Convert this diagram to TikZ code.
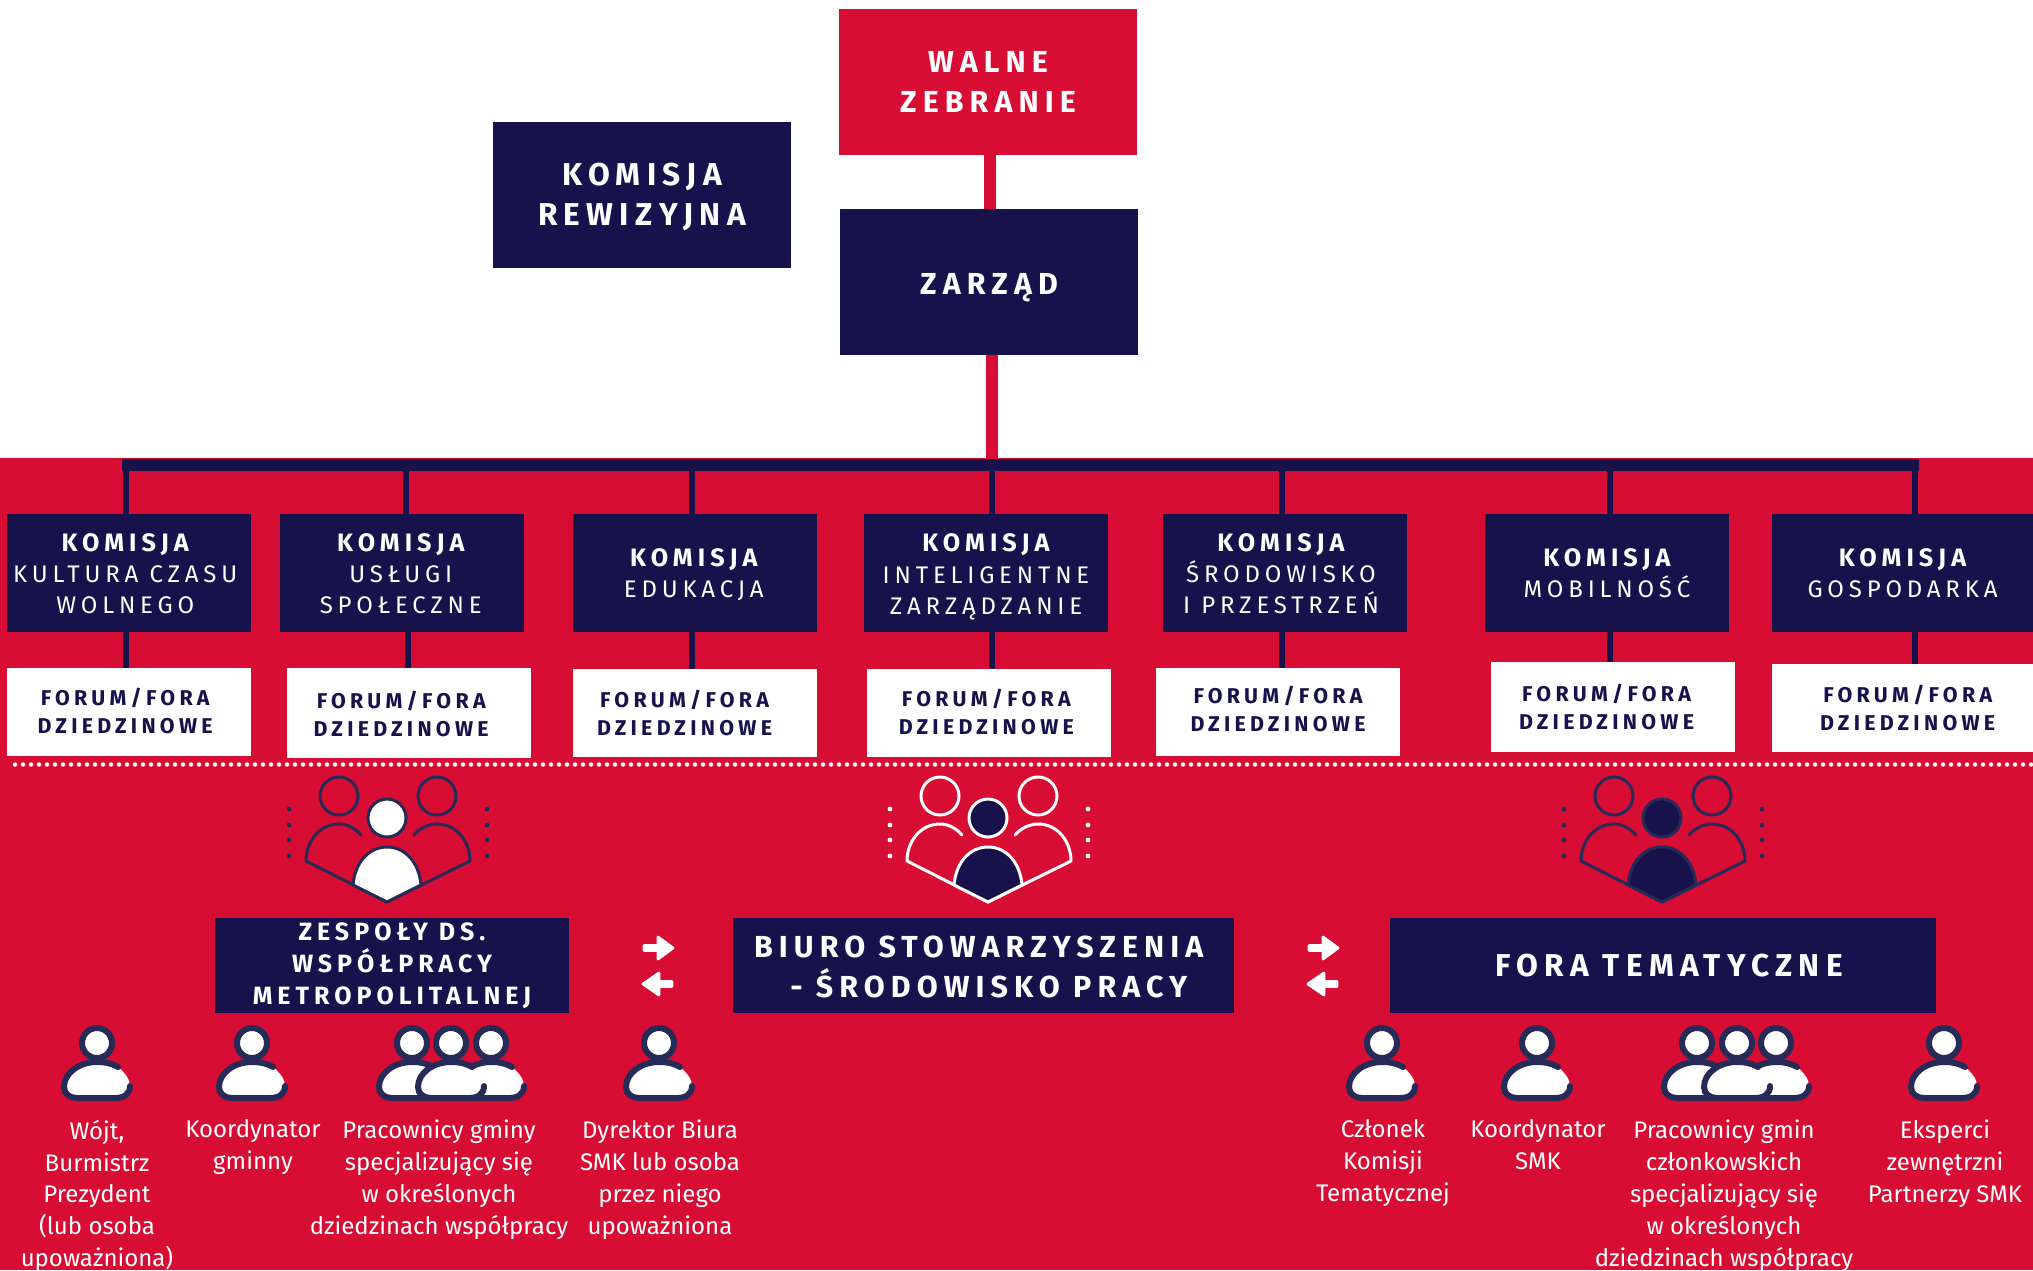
\documentclass[tikz,border=0pt]{standalone}
\usepackage{fontspec}
\setmainfont{Fira Sans}
\newfontfamily\trk[LetterSpace=20]{Fira Sans}
\newfontfamily\trkb[LetterSpace=20,BoldFont={Fira Sans Bold}]{Fira Sans}
\newcommand{\kb}{\trkb\bfseries\fontsize{12.6}{15.6}\selectfont}
\definecolor{smkred}{HTML}{D80D33}
\definecolor{smknavy}{HTML}{18124C}
\definecolor{smkline}{HTML}{252A57}
\tikzset{
 nbox/.style n args={2}{inner sep=0pt,outer sep=0pt,minimum width=#1*0.5pt,minimum height=#2*0.5pt,fill=smknavy},
 wbox/.style n args={2}{nbox={#1}{#2},fill=white},
 lab/.style={inner sep=0pt,outer sep=0pt,align=center,text=white},
 bigt/.style={lab,font=\trkb\bfseries\fontsize{15.2}{20}\selectfont},
 komt/.style={lab,font=\trk\fontsize{12}{15.6}\selectfont},
 fort/.style={lab,text=smknavy,font=\trkb\bfseries\fontsize{10.7}{14}\selectfont},
 botbig/.style={lab,font=\trkb\bfseries\fontsize{15.2}{20}\selectfont},
 forat/.style={lab,font=\trkb\bfseries\fontsize{15.8}{20}\selectfont},
 zest/.style={lab,font=\trkb\bfseries\fontsize{12.5}{16}\selectfont},
 body/.style={font=\fontsize{12}{15.95}\selectfont,text=white,align=center,inner sep=0pt,anchor=north},
 navyc/.style={draw=smknavy,line width=3.2pt},
 redc/.style={draw=smkred,line width=6.2pt},
 arw/.style={fill=white,draw=white,line width=1.4pt,line join=round},
}
\newcommand{\pers}[2]{% x, y of head
 \begin{scope}[shift={(#1,#2)}]
  \fill[white] (21,24) .. controls (14,20) and (8,19) .. (0,19) .. controls (-18,19) and (-33,30) .. (-33,44) .. controls (-33,51) and (-27,55) .. (-20,55) -- (18,55) .. controls (27,55) and (33,51) .. (33,43) .. controls (33,36) and (28,30) .. cycle;
  \draw[smkline,line width=3pt,line cap=round] (21,24) .. controls (14,20) and (8,19) .. (0,19) .. controls (-18,19) and (-33,30) .. (-33,44) .. controls (-33,51) and (-27,55) .. (-20,55) -- (18,55) .. controls (27,55) and (33,51) .. (33,43);
  \draw[smkline,fill=white,line width=3pt] (0,0) circle (15);
 \end{scope}}
\newcommand{\trio}[3]{% x centre, line colour, fill of centre
 \begin{scope}[shift={(#1,0)},line width=1.5pt,draw=#2]
  \draw (-48,796) circle (19);
  \draw (50,796) circle (19);
  \draw[fill=#3] (0,818) circle (19);
  \draw[line cap=round,line join=round] (-26,835) .. controls (-32,828) and (-40,824) .. (-48,824) .. controls (-68,824) and (-81,842) .. (-81,861) -- (0,902) -- (83,861) .. controls (83,842) and (70,824) .. (50,824) .. controls (42,824) and (33,828) .. (27,835);
  \draw[fill=#3,line join=round] (-34,885) .. controls (-32,862) and (-18,847) .. (0,847) .. controls (18,847) and (32,862) .. (34,885) -- (0,902) -- cycle;
  \foreach \dy in {809,825,840,856} {\fill[#2] (-98,\dy) circle (2.4); \fill[#2] (100,\dy) circle (2.4);}
 \end{scope}}
\begin{document}
\begin{tikzpicture}[x=0.5pt,y=-0.5pt]
\useasboundingbox (0,0) rectangle (2033,1270);
\fill[white] (0,0) rectangle (2033,458);
\fill[smkred] (0,458) rectangle (2033,1270);

% top
\node[nbox={298}{146},fill=smkred,label={[bigt]center:{WALNE\\ZEBRANIE}}] (walne) at (988,82) {};
\node[nbox={298}{146},label={[bigt,yshift=-0.8pt,font=\trkb\bfseries\fontsize{15.8}{20}\selectfont]center:{KOMISJA\\REWIZYJNA}}] (rew) at (642,195) {};
\node[nbox={298}{146},label={[bigt,yshift=-3pt]center:{ZARZĄD}}] (zarzad) at (989,282) {};
\coordinate (tra) at (990,180);
\coordinate (tr) at (992,465);
\coordinate (barL) at (122,465);
\coordinate (barR) at (1919,465);
\draw[redc] (tra |- walne.south) -- (tra |- zarzad.north);
\draw[redc] (tr |- zarzad.south) -- (tr |- barL);
\draw[navyc,line width=6pt] (barL) -- (barR);

% commissions
\node[nbox={244}{118},label={[komt,xshift=-1.9pt,yshift=-0.4pt]center:{\kb KOMISJA\\KULTURA CZASU\\WOLNEGO}}] (k1) at (129,573) {};
\node[nbox={244}{118},label={[komt,xshift=-0.6pt,yshift=-0.4pt]center:{\kb KOMISJA\\USŁUGI\\SPOŁECZNE}}] (k2) at (402,573) {};
\node[nbox={244}{118},label={[komt,xshift=-0.6pt,yshift=-1pt]center:{\kb KOMISJA\\EDUKACJA}}] (k3) at (695,573) {};
\node[nbox={244}{118},label={[komt,yshift=-2pt]center:{\kb KOMISJA\\INTELIGENTNE\\ZARZĄDZANIE}}] (k4) at (986,573) {};
\node[nbox={244}{118},label={[komt,xshift=-2pt,yshift=-0.4pt]center:{\kb KOMISJA\\ŚRODOWISKO\\I PRZESTRZEŃ}}] (k5) at (1285,573) {};
\node[nbox={244}{118},label={[komt]center:{\kb KOMISJA\\MOBILNOŚĆ}}] (k6) at (1607,573) {};
\node[nbox={261}{118},label={[komt]center:{\kb KOMISJA\\GOSPODARKA}}] (k7) at (1902.5,573) {};
% forums
\node[wbox={244}{88},label={[fort,xshift=-1.9pt,yshift=0.6pt]center:{FORUM/FORA\\DZIEDZINOWE}}] (f1) at (129,712) {};
\node[wbox={244}{90},label={[fort,xshift=-3.9pt,yshift=-0.6pt]center:{FORUM/FORA\\DZIEDZINOWE}}] (f2) at (409,713) {};
\node[wbox={244}{88},label={[fort,xshift=-5.2pt]center:{FORUM/FORA\\DZIEDZINOWE}}] (f3) at (695,713) {};
\node[wbox={244}{88},label={[fort,xshift=-1.3pt,yshift=0.6pt]center:{FORUM/FORA\\DZIEDZINOWE}}] (f4) at (989,713) {};
\node[wbox={244}{88},label={[fort,yshift=1.3pt]center:{FORUM/FORA\\DZIEDZINOWE}}] (f5) at (1278,712) {};
\node[wbox={244}{90},label={[fort,xshift=-3.2pt]center:{FORUM/FORA\\DZIEDZINOWE}}] (f6) at (1613,707) {};
\node[wbox={261}{88},label={[fort,xshift=2.6pt]center:{FORUM/FORA\\DZIEDZINOWE}}] (f7) at (1902.5,708) {};
% connectors
\foreach \n/\xt/\xb in {1/126/126,2/406/408,3/692/692,4/992/992,5/1282/1282,6/1610/1610,7/1915/1915}{
 \coordinate (t\n) at (\xt,465);
 \coordinate (b\n) at (\xb,640);
 \draw[navyc] (t\n) -- (t\n |- k\n.north);
 \draw[navyc] (b\n |- k\n.south) -- (b\n |- f\n.north);
}
% dotted
\foreach \i in {0,...,252} {\fill[white] (15+8*\i,764.5) circle (2.2);}

% trio icons
\trio{387}{smkline}{white}
\trio{988}{white}{smknavy}
\trio{1662}{smkline}{smknavy}

% bottom boxes
\node[nbox={354}{95},label={[zest]center:{ZESPOŁY DS.\\WSPÓŁPRACY\\METROPOLITALNEJ}}] (zes) at (392,965.5) {};
\node[nbox={501}{95},label={[botbig,xshift=-2.4pt,yshift=-0.6pt]center:{BIURO STOWARZYSZENIA\\\hspace*{10pt}- ŚRODOWISKO PRACY}}] (biu) at (983.5,965.5) {};
\node[nbox={546}{95},label={[forat,xshift=3pt]center:{FORA TEMATYCZNE}}] (fora) at (1663,965.5) {};

% arrows
\foreach \ax in {0,665} {
 \begin{scope}[shift={(\ax,0)}]
 \fill[arw] (644,945.5) -- (658,945.5) -- (658,937) -- (673,948) -- (658,959) -- (658,950.5) -- (644,950.5) -- cycle;
 \fill[arw] (672,981.5) -- (659,981.5) -- (659,973) -- (643,984) -- (659,995) -- (659,986.5) -- (672,986.5) -- cycle;
 \end{scope}}

% people
\pers{97}{1043}
\pers{252}{1043}
\pers{412}{1043}\pers{491}{1043}\pers{451}{1043}
\pers{659}{1043}
\pers{1382}{1043}
\pers{1537}{1043}
\pers{1697}{1043}\pers{1776}{1043}\pers{1737}{1043}
\pers{1944}{1043}

% labels
\node[body] (l1) at (97,1119.5) {Wójt,\\Burmistrz\\Prezydent\\(lub osoba\\upoważniona)};
\node[body] (l2) at (253,1119.5) {Koordynator\\gminny};
\node[body] (l3) at (439,1119.5) {Pracownicy gminy\\specjalizujący się\\w określonych\\dziedzinach współpracy};
\node[body] (l4) at (660,1119.5) {Dyrektor Biura\\SMK lub osoba\\przez niego\\upoważniona};
\node[body] (l5) at (1383,1119.5) {Członek\\Komisji\\Tematycznej};
\node[body] (l6) at (1538,1119.5) {Koordynator\\SMK};
\node[body] (l7) at (1724,1119.5) {Pracownicy gmin\\członkowskich\\specjalizujący się\\w określonych\\dziedzinach współpracy};
\node[body] (l8) at (1945,1119.5) {Eksperci\\zewnętrzni\\Partnerzy SMK};
\end{tikzpicture}
\end{document}
